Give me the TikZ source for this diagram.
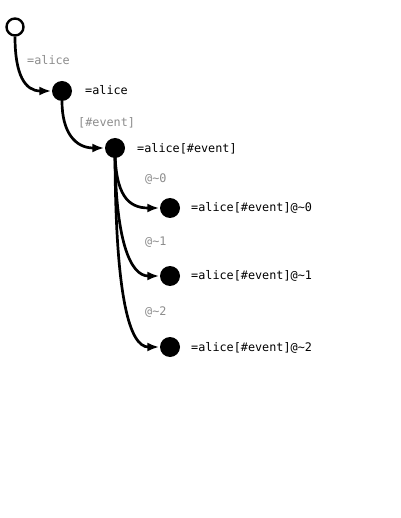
\documentclass[tikz,border=0pt]{standalone}
\usepackage{fontspec}
\setmonofont{DejaVu Sans Mono}
\usetikzlibrary{arrows.meta,positioning}
\tikzset{
  treeedge/.style={-{Latex[length=12pt,width=9pt]}, line width=2.7pt,
    draw=black, shorten >=0.5pt},
  pathlabel/.style={font=\fontsize{11.8}{14}\ttfamily, text=black!45,
    anchor=mid west, inner sep=0pt},
  keylabel/.style={font=\fontsize{11.8}{14}\ttfamily, text=black,
    anchor=mid west, inner sep=0pt}
}

\begin{document}
\begin{tikzpicture}[
  x=1pt, y=-1pt,
  rootdot/.style={circle, draw, line width=2.4pt, fill=white, minimum size=17pt, inner sep=0pt},
  keydot/.style={circle, fill=black, minimum size=20pt, inner sep=0pt}
]
\useasboundingbox (0,0) rectangle (400,518);

\node[rootdot] at (15,27) (root) {};
\node[keydot] at (62,91) (alice) {};
\node[keydot] at (115,148) (event) {};
\node[keydot] at (170,208) (ev0) {};
\node[keydot] at (170,276) (ev1) {};
\node[keydot] at (170,347) (ev2) {};

\node[keylabel] at (85,92) (alicetxt) {=alice};
\node[keylabel] at (137,150) (eventtxt) {=alice[\#event]};
\node[keylabel] at (191,209) (ev0txt) {=alice[\#event]@\textasciitilde0};
\node[keylabel] at (191,277) (ev1txt) {=alice[\#event]@\textasciitilde1};
\node[keylabel] at (191,349) (ev2txt) {=alice[\#event]@\textasciitilde2};

\node[pathlabel] at (27,62) (l1) {=alice};
\node[pathlabel] at (78,124) (l2) {[\#event]};
\node[pathlabel] at (145,180) (l3) {@\textasciitilde0};
\node[pathlabel] at (145,243) (l4) {@\textasciitilde1};
\node[pathlabel] at (145,313) (l5) {@\textasciitilde2};

\draw[treeedge] (root.south) .. controls (15,75) and (25,91) .. (alice.west);
\draw[treeedge] (alice.south) .. controls (62,132) and (75,148) .. (event.west);
\draw[treeedge] (event.center) .. controls (115,195) and (128,208) .. (ev0.west);
\draw[treeedge] (event.center) .. controls (115,240) and (130,276) .. (ev1.west);
\draw[treeedge] (event.center) .. controls (115,300) and (130,347) .. (ev2.west);
\end{tikzpicture}
\end{document}
